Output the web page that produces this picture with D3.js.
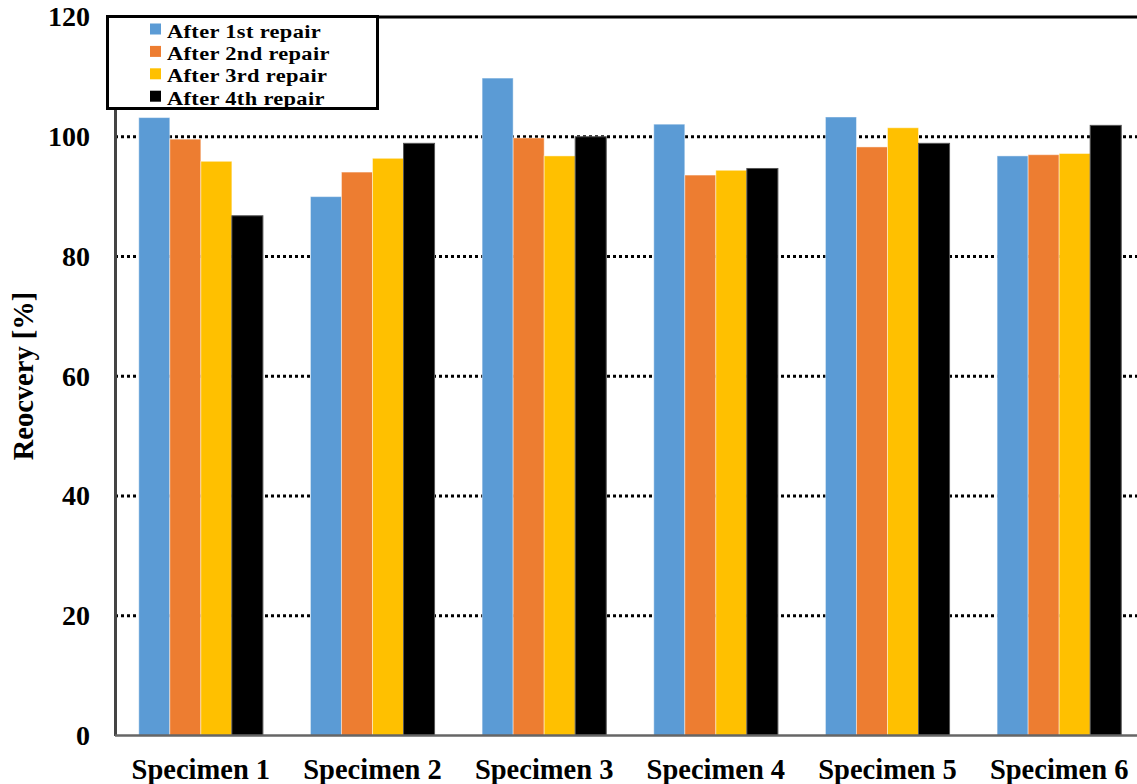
<!DOCTYPE html>
<html>
<head>
<meta charset="utf-8">
<script src="https://cdn.jsdelivr.net/npm/d3@7"></script>
<style>
  html, body { margin: 0; padding: 0; background: #fff; }
  svg { display: block; }
  text { font-family: "Liberation Serif", "Times New Roman", serif; font-weight: bold; fill: #000; }
</style>
</head>
<body>
<svg id="chart" width="1137" height="784"></svg>
<script>
// Recovery ratio of each specimen after successive repairs
const categories = ["Specimen 1", "Specimen 2", "Specimen 3", "Specimen 4", "Specimen 5", "Specimen 6"];
const seriesNames = ["After 1st repair", "After 2nd repair", "After 3rd repair", "After 4th repair"];
const repair1 = [103.2, 90.0, 109.8, 102.1, 103.3, 96.8];
const repair2 = [99.6, 94.1, 99.8, 93.6, 98.3, 97.0];
const repair3 = [95.9, 96.4, 96.8, 94.4, 101.5, 97.2];
const repair4 = [86.8, 98.9, 100.0, 94.7, 98.9, 101.9];
const yTicks = [0, 20, 40, 60, 80, 100, 120];
const colors = ["#5B9BD5", "#ED7D31", "#FFC000", "#000000"];

const series = [repair1, repair2, repair3, repair4];

const svg = d3.select("#chart");
const plotLeft = 115, plotRight = 1145, plotTop = 17, plotBottom = 735.5;

const x0 = d3.scaleBand().domain(categories).range([plotLeft, plotRight]).paddingInner(0.277).paddingOuter(0.1385);
const x1 = d3.scaleBand().domain(d3.range(series.length)).range([0, x0.bandwidth()]).padding(0);
const y = d3.scaleLinear().domain([0, 120]).range([plotBottom, plotTop]);

// dotted gridlines
svg.append("g")
  .selectAll("line")
  .data(yTicks.filter(t => t > 0 && t < 120))
  .join("line")
  .attr("x1", plotLeft).attr("x2", 1137)
  .attr("y1", d => y(d)).attr("y2", d => y(d))
  .attr("stroke", "#000").attr("stroke-width", 3)
  .attr("stroke-dasharray", "3 3");

// bars
const groups = svg.append("g")
  .selectAll("g")
  .data(categories)
  .join("g")
  .attr("transform", d => `translate(${x0(d)},0)`);

groups.selectAll("rect")
  .data((c, i) => series.map((s, k) => ({ k, v: s[i] })))
  .join("rect")
  .attr("x", d => x1(d.k))
  .attr("width", x1.bandwidth())
  .attr("y", d => y(d.v))
  .attr("height", d => y(0) - y(d.v))
  .attr("fill", d => colors[d.k])
  .attr("stroke", d => d.k === 3 ? "#555" : "rgba(255,255,255,0.45)")
  .attr("stroke-width", 1);

// top border
svg.append("line")
  .attr("x1", plotLeft).attr("x2", 1137)
  .attr("y1", plotTop).attr("y2", plotTop)
  .attr("stroke", "#000").attr("stroke-width", 3);

// y axis
const yAxis = d3.axisLeft(y).tickValues(yTicks).tickSize(0).tickPadding(25);
const gy = svg.append("g").attr("transform", `translate(${plotLeft},0)`).call(yAxis);
gy.select(".domain").attr("stroke", "#444").attr("stroke-width", 3);
gy.selectAll("text").style("font-size", "28px").attr("font-family", null).attr("fill", "#000");

// x axis
const xAxis = d3.axisBottom(x0).tickSize(0).tickPadding(23);
const gx = svg.append("g").attr("transform", `translate(0,${plotBottom})`).call(xAxis);
gx.select(".domain").attr("stroke", "#666").attr("stroke-width", 2.5)
  .attr("d", `M${plotLeft},0H1137`);
gx.selectAll("text").style("font-size", "28.5px").attr("font-family", null).attr("fill", "#000");

// y axis title
svg.append("text")
  .attr("transform", "translate(33,376) rotate(-90)")
  .attr("text-anchor", "middle")
  .style("font-size", "28.5px")
  .text("Reocvery [%]");

// legend
const legend = svg.append("g");
legend.append("rect")
  .attr("x", 107.5).attr("y", 16.5)
  .attr("width", 270).attr("height", 92)
  .attr("fill", "#fff").attr("stroke", "#000").attr("stroke-width", 3);

const items = legend.selectAll("g.item")
  .data(seriesNames)
  .join("g")
  .attr("class", "item")
  .attr("transform", (d, i) => `translate(0,${22.4 * i})`);

items.append("rect")
  .attr("x", 150).attr("y", 23.5)
  .attr("width", 11).attr("height", 11)
  .attr("fill", (d, i) => colors[i]);

// legend labels are set slightly widened, as in the original typesetting
items.append("text")
  .attr("transform", "translate(167,37.5) scale(1.15,1)")
  .style("font-size", "19.5px")
  .style("letter-spacing", "0.3px")
  .text(d => d);
</script>
</body>
</html>
